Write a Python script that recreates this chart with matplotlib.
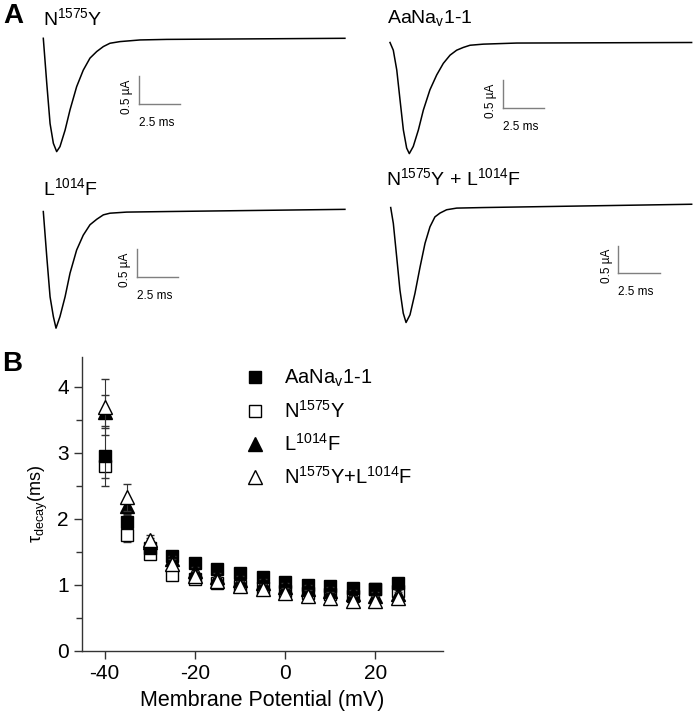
import matplotlib
matplotlib.use("Agg")
import matplotlib.pyplot as plt
from matplotlib.lines import Line2D
import numpy as np

plt.rcParams['font.family'] = ['Liberation Sans', 'DejaVu Sans']
plt.rcParams['mathtext.fontset'] = 'custom'
plt.rcParams['mathtext.rm'] = 'Liberation Sans'
plt.rcParams['mathtext.it'] = 'Liberation Sans:italic'
plt.rcParams['mathtext.bf'] = 'Liberation Sans:bold'
plt.rcParams['mathtext.default'] = 'regular'
plt.rcParams['axes.unicode_minus'] = False

# ---------------- Panel A: current traces (time in ms, current in uA) -------------
t_n1575y = [0, 0.21, 0.41, 0.61, 0.81, 1.01, 1.32, 1.62, 2.02, 2.42, 2.83, 3.24, 3.64, 4.04, 4.65, 5.86, 7.48, 18.28]
i_n1575y = [0, -0.82, -1.55, -1.91, -2.06, -1.97, -1.67, -1.30, -0.88, -0.58, -0.36, -0.24, -0.15, -0.09, -0.06, -0.03, -0.02, 0]

t_aanav = [0, 0.20, 0.41, 0.61, 0.81, 1.01, 1.17, 1.41, 1.72, 2.02, 2.42, 2.83, 3.23, 3.64, 4.04, 4.44, 4.85, 5.65, 7.68, 18.28]
i_aanav = [0, -0.14, -0.50, -1.05, -1.59, -1.92, -2.02, -1.89, -1.59, -1.23, -0.86, -0.59, -0.38, -0.23, -0.14, -0.09, -0.05, -0.03, -0.01, 0]

t_l1014f = [0, 0.21, 0.41, 0.61, 0.77, 1.01, 1.32, 1.62, 2.02, 2.42, 2.83, 3.24, 3.64, 4.04, 5.05, 7.48, 18.28]
i_l1014f = [-0.01, -0.83, -1.56, -1.92, -2.13, -1.92, -1.56, -1.13, -0.71, -0.44, -0.25, -0.15, -0.07, -0.04, -0.02, -0.01, 0.03]

t_double = [0, 0.16, 0.36, 0.56, 0.76, 0.93, 1.17, 1.47, 1.78, 2.08, 2.38, 2.68, 2.99, 3.39, 4.0, 5.61, 18.24]
i_double = [-0.01, -0.30, -0.90, -1.51, -1.93, -2.10, -1.96, -1.57, -1.09, -0.66, -0.36, -0.18, -0.11, -0.05, -0.02, -0.01, 0.05]

trace_titles = [r'N$^{1575}$Y', r'AaNa$_{v}$1-1', r'L$^{1014}$F', r'N$^{1575}$Y + L$^{1014}$F']

# ---------------- Panel B: tau decay vs membrane potential -------------
voltage = [-40, -35, -30, -25, -20, -15, -10, -5, 0, 5, 10, 15, 20, 25]
tau_aanav = [2.95, 1.95, 1.56, 1.43, 1.32, 1.23, 1.17, 1.11, 1.04, 1.00, 0.98, 0.95, 0.93, 1.02]
err_aanav = [0.45, 0.10, 0.06, 0.05, 0.05, 0.05, 0.05, 0.05, 0.05, 0.05, 0.05, 0.05, 0.05, 0.05]
tau_n1575y = [2.80, 1.75, 1.47, 1.15, 1.08, 1.02, 0.98, 0.95, 0.90, 0.87, 0.85, 0.82, 0.93, 0.90]
err_n1575y = [0.18, 0.10, 0.07, 0.06, 0.06, 0.06, 0.06, 0.06, 0.06, 0.06, 0.06, 0.06, 0.06, 0.06]
tau_l1014f = [3.62, 2.19, 1.64, 1.38, 1.20, 1.12, 1.07, 1.02, 0.97, 0.93, 0.90, 0.85, 0.82, 0.85]
err_l1014f = [0.25, 0.12, 0.06, 0.06, 0.06, 0.06, 0.06, 0.06, 0.06, 0.06, 0.06, 0.06, 0.06, 0.06]
tau_double = [3.69, 2.32, 1.68, 1.31, 1.13, 1.05, 0.98, 0.93, 0.87, 0.83, 0.80, 0.75, 0.75, 0.80]
err_double = [0.43, 0.21, 0.07, 0.07, 0.07, 0.07, 0.08, 0.08, 0.08, 0.08, 0.08, 0.08, 0.08, 0.08]
legend_labels = [r'AaNa$_{v}$1-1', r'N$^{1575}$Y', r'L$^{1014}$F', r'N$^{1575}$Y+L$^{1014}$F']

W, H = 694, 712
fig = plt.figure(figsize=(W / 100, H / 100), dpi=100)

S_T, S_I = 16.5, 55.0  # px per ms, px per uA
TMIN, TMAX, IMIN, IMAX = -0.5, 19.5, -2.4, 0.4


def trace_axes(x0, y0):
    left = (x0 + TMIN * S_T) / W
    width = (TMAX - TMIN) * S_T / W
    bottom = 1 - (y0 - IMIN * S_I) / H
    height = (IMAX - IMIN) * S_I / H
    ax = fig.add_axes([left, bottom, width, height])
    ax.set_xlim(TMIN, TMAX)
    ax.set_ylim(IMIN, IMAX)
    ax.axis('off')
    return ax

traces = [(t_n1575y, i_n1575y), (t_aanav, i_aanav), (t_l1014f, i_l1014f), (t_double, i_double)]
origins = [(43.3, 38.3), (390, 42.5), (43.3, 211), (390.7, 207)]
scalebars = [(5.8, -1.19), (6.85, -1.19), (5.68, -1.2), (13.8, -1.2)]
title_pos = [(43, 18), (387, 18), (43, 188), (386, 178)]

for (t, i), (x0, y0), (sx, sy), tt, (tx, ty) in zip(traces, origins, scalebars, trace_titles, title_pos):
    ax = trace_axes(x0, y0)
    ax.plot(t, i, color='black', lw=1.1, clip_on=False)
    ax.plot([sx, sx], [sy, sy + 0.5], color='#7f7f7f', lw=1.0)
    ax.plot([sx, sx + 2.5], [sy, sy], color='#7f7f7f', lw=1.0)
    ax.text(sx - 0.7, sy + 0.13, '0.5 µA', rotation=90, ha='center', va='center', fontsize=8.5)
    ax.text(sx, sy - 0.35, '2.5 ms', ha='left', va='center', fontsize=8.5)
    fig.text(tx / W, 1 - ty / H, tt, ha='left', va='center', fontsize=14)

fig.text(3 / W, 1 - 16 / H, 'A', fontsize=20, fontweight='bold', ha='left', va='center')
fig.text(2 / W, 1 - 364 / H, 'B', fontsize=20, fontweight='bold', ha='left', va='center')

# ---------------- Panel B axes -------------
axb = fig.add_axes([82 / W, 1 - 650.5 / H, (443 - 82) / W, (650.5 - 357) / H])
axb.set_xlim(-45, 35)
axb.set_ylim(0, 4.45)
axb.set_xticks([-40, -20, 0, 20])
axb.set_yticks([0, 1, 2, 3, 4])
axb.set_yticks(np.arange(0.5, 4.5, 1.0), minor=True)
for s in ['top', 'right']:
    axb.spines[s].set_visible(False)
for s in ['left', 'bottom']:
    axb.spines[s].set_color('#333333')
    axb.spines[s].set_linewidth(1.0)
axb.tick_params(axis='both', which='major', length=6, width=1.0, color='#333333', labelsize=15, direction='out')
axb.tick_params(axis='y', which='minor', length=4, width=1.0, color='#333333')

series = [
    (tau_n1575y, err_n1575y, 's', 'white'),
    (tau_aanav, err_aanav, 's', 'black'),
    (tau_l1014f, err_l1014f, '^', 'black'),
    (tau_double, err_double, '^', 'white'),
]
for k, (y, e, m, fc) in enumerate(series):
    axb.errorbar(voltage, y, yerr=e, fmt=m, ms=9 if m == 's' else 10, mfc=fc, mec='black', mew=1.0,
                 ecolor='#333333', elinewidth=0.8, capsize=3, capthick=0.8, zorder=3 + k)

handles = [
    Line2D([], [], ls='none', marker='s', ms=9, mfc='black', mec='black'),
    Line2D([], [], ls='none', marker='s', ms=9, mfc='white', mec='black'),
    Line2D([], [], ls='none', marker='^', ms=10, mfc='black', mec='black'),
    Line2D([], [], ls='none', marker='^', ms=10, mfc='white', mec='black'),
]
axb.legend(handles, legend_labels, loc='upper left', bbox_to_anchor=(0.43, 0.99), frameon=False,
           fontsize=14.5, handlelength=1.0, handletextpad=0.9, labelspacing=0.55, borderaxespad=0)

axb.set_xlabel('Membrane Potential (mV)', fontsize=15.5, labelpad=5)
axb.set_ylabel('τ$_{decay}$(ms)', fontsize=13, labelpad=5)

fig.savefig('out.png', dpi=100)
